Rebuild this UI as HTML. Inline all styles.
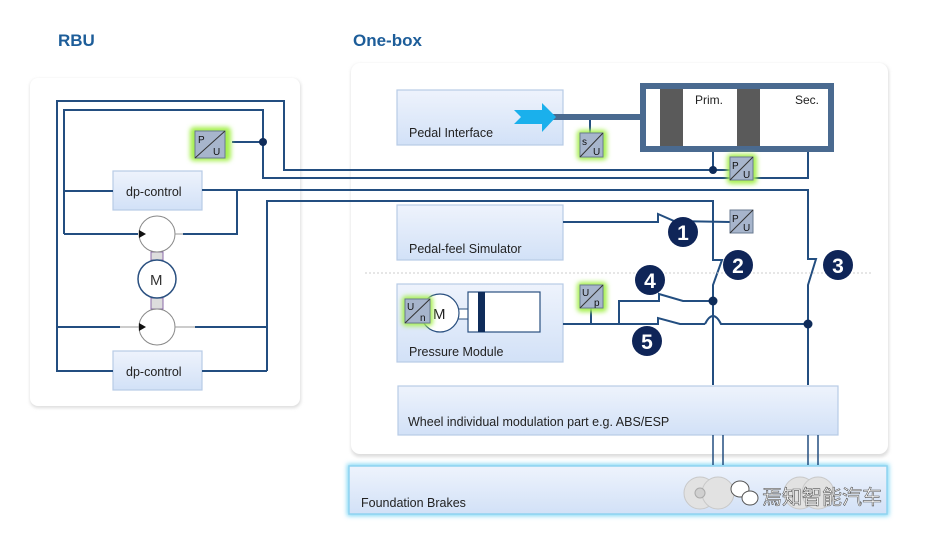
<!DOCTYPE html>
<html><head><meta charset="utf-8"><style>
html,body{margin:0;padding:0;background:#fff;width:929px;height:539px;overflow:hidden}
svg{display:block;font-family:"Liberation Sans","Noto Sans CJK SC",sans-serif}
</style></head><body>
<svg width="929" height="539" viewBox="0 0 929 539" xmlns="http://www.w3.org/2000/svg">
<defs>
<linearGradient id="bx" x1="0" y1="0" x2="0" y2="1"><stop offset="0" stop-color="#eef3fc"/><stop offset="1" stop-color="#d2e1f7"/></linearGradient>
<filter id="gl" x="-50%" y="-50%" width="200%" height="200%"><feGaussianBlur stdDeviation="2.5"/></filter>
<filter id="sh" x="-5%" y="-5%" width="110%" height="110%"><feGaussianBlur stdDeviation="1.5"/></filter>
</defs>
<text x="58" y="46" font-size="17" font-weight="bold" fill="#1d5d99">RBU</text>
<text x="353" y="46" font-size="17" font-weight="bold" fill="#1d5d99">One-box</text>
<rect x="30" y="79" width="271" height="329" rx="8" fill="#ddd" filter="url(#sh)"/>
<rect x="30" y="78" width="270" height="328" rx="8" fill="#fff"/>
<rect x="351" y="64" width="538" height="393" rx="9" fill="#ddd" filter="url(#sh)"/>
<rect x="351" y="63" width="537" height="391" rx="9" fill="#fff"/>
<rect x="347" y="464" width="542" height="52" fill="#7fd7f5" filter="url(#gl)"/>
<rect x="349" y="466" width="538" height="48" fill="url(#bx)" stroke="#8fd3f0" stroke-width="1.5"/>
<text x="361" y="507" font-size="12.5" fill="#222">Foundation Brakes</text>
<g fill="#e2e2e2" stroke="#c8c8c8"><circle cx="700" cy="493" r="16"/><circle cx="718" cy="493" r="16"/><circle cx="800" cy="493" r="16"/><circle cx="818" cy="493" r="16"/></g>
<circle cx="700" cy="493" r="5" fill="#d0d0d0" stroke="#aaa"/>
<g fill="#fff" stroke="#555" stroke-width="1"><ellipse cx="740" cy="489" rx="9" ry="8"/><ellipse cx="750" cy="498" rx="8" ry="7"/></g>
<text x="762" y="504" font-size="20" fill="#fff" stroke="#555" stroke-width="0.6">焉知智能汽车</text>
<g fill="url(#bx)" stroke="#b7cbe6" stroke-width="1.2">
<rect x="113" y="171" width="89" height="39"/>
<rect x="113" y="351" width="89" height="39"/>
<rect x="397" y="90" width="166" height="55"/>
<rect x="397" y="205" width="166" height="55"/>
<rect x="397" y="284" width="166" height="78"/>
<rect x="398" y="386" width="440" height="49"/>
</g>
<g font-size="12.5" fill="#222">
<text x="126" y="196">dp-control</text>
<text x="126" y="376">dp-control</text>
<text x="409" y="137">Pedal Interface</text>
<text x="409" y="253">Pedal-feel Simulator</text>
<text x="409" y="356">Pressure Module</text>
<text x="408" y="426">Wheel individual modulation part e.g. ABS/ESP</text>
</g>
<g fill="none" stroke="#234e80" stroke-width="2">
<polyline points="57,372 57,101 284,101 284,170 753,170"/>
<polyline points="713,170 713,150"/>
<polyline points="64,234 64,110 263,110 263,178 808,178 808,150"/>
<polyline points="232,142 263,142"/>
<polyline points="64,191 113,191"/>
<polyline points="202,190 808,190 808,259 816,259 808,285 808,385"/>
<polyline points="183,234 237,234 237,190"/>
<polyline points="267,371 267,201 713,201 713,260 722,260 713,285 713,385"/>
<polyline points="195,327 267,327"/>
<polyline points="57,327 120,327"/>
<polyline points="57,371 113,371"/>
<polyline points="64,234 138,234"/>
<polyline points="202,371 267,371"/>
<polyline points="563,222 658,222 658,214 674,221 730,222"/>
<polyline points="563,324 658,324 658,318 680,324 705,324"/>
<path d="M705 324 Q713 308 721 324 L808 324"/>
<polyline points="619,324 619,301 659,301 659,294 683,301 713,301"/>
<polyline points="591,308 591,324"/>
<polyline points="590,133 590,117"/>
</g>
<g stroke="#234e80" stroke-width="1.5"><line x1="713" y1="435" x2="713" y2="465"/><line x1="723" y1="435" x2="723" y2="465"/><line x1="808" y1="435" x2="808" y2="465"/><line x1="818" y1="435" x2="818" y2="465"/></g>
<g fill="#0f2c5a"><circle cx="263" cy="142" r="4"/><circle cx="713" cy="170" r="4"/><circle cx="713" cy="301" r="4.5"/><circle cx="808" cy="324" r="4.5"/></g>
<line x1="365" y1="273" x2="872" y2="273" stroke="#ccc" stroke-dasharray="2,2"/>
<rect x="151" y="252" width="12" height="8" fill="#ddd" stroke="#8a6aa8"/>
<rect x="151" y="298" width="12" height="11" fill="#ddd" stroke="#8a6aa8"/>
<g fill="#fff" stroke="#888"><circle cx="157" cy="234" r="18"/><circle cx="157" cy="327" r="18"/></g>
<circle cx="157" cy="279" r="19" fill="#fff" stroke="#2a5080" stroke-width="1.5"/>
<text x="150" y="285" font-size="15" fill="#333">M</text>
<g stroke="#999"><line x1="120" y1="327" x2="140" y2="327"/><line x1="175" y1="327" x2="195" y2="327"/><line x1="175" y1="234" x2="183" y2="234"/></g>
<polygon points="139,230 146,234 139,238" fill="#111"/><polygon points="139,323 146,327 139,331" fill="#111"/>
<rect x="550" y="114" width="92" height="6" fill="#4a6a90"/>
<polygon points="514,110 542,110 542,103 556,117 542,132 542,124 514,124 521,117" fill="#1ab0ec"/>
<rect x="643" y="86" width="188" height="63" fill="#fff" stroke="#4a6a90" stroke-width="6"/>
<rect x="660" y="89" width="23" height="57" fill="#5a5a5a"/><rect x="737" y="89" width="23" height="57" fill="#5a5a5a"/>
<text x="695" y="104" font-size="12" fill="#222">Prim.</text><text x="795" y="104" font-size="12" fill="#222">Sec.</text>
<rect x="455" y="309" width="14" height="10" fill="#fff" stroke="#2a5080"/>
<circle cx="440" cy="313" r="19" fill="#fff" stroke="#2a5080" stroke-width="1.2"/>
<text x="433" y="319" font-size="15" fill="#222">M</text>
<rect x="468" y="292" width="72" height="40" fill="#fff" stroke="#2a5080" stroke-width="1.2"/>
<rect x="478" y="292" width="7" height="40" fill="#0f2c5a"/>
<g>
<rect x="190" y="127" width="41" height="34" rx="4" fill="#a6f050" filter="url(#gl)"/>
<rect x="577" y="130" width="30" height="30" rx="4" fill="#a6f050" filter="url(#gl)"/>
<rect x="727" y="154" width="30" height="30" rx="4" fill="#a6f050" filter="url(#gl)"/>
<rect x="577" y="282" width="30" height="30" rx="4" fill="#a6f050" filter="url(#gl)"/>
<rect x="402" y="296" width="31" height="30" rx="4" fill="#a6f050" filter="url(#gl)"/>
</g>
<g fill="#a7b5cc" stroke="#6a7a90">
<rect x="195" y="131" width="30" height="27"/>
<rect x="580" y="133" width="23" height="24"/>
<rect x="730" y="157" width="23" height="23"/>
<rect x="730" y="210" width="23" height="23"/>
<rect x="580" y="285" width="23" height="23"/>
<rect x="405" y="299" width="25" height="24"/>
</g>
<g stroke="#333" stroke-width="1">
<line x1="195" y1="158" x2="225" y2="131"/><line x1="580" y1="157" x2="603" y2="133"/><line x1="730" y1="180" x2="753" y2="157"/><line x1="730" y1="233" x2="753" y2="210"/><line x1="580" y1="308" x2="603" y2="285"/><line x1="405" y1="323" x2="430" y2="299"/>
</g>
<g font-size="10" fill="#111">
<text x="198" y="143">P</text><text x="213" y="155">U</text>
<text x="582" y="145">s</text><text x="593" y="155">U</text>
<text x="732" y="169">P</text><text x="743" y="178">U</text>
<text x="732" y="222">P</text><text x="743" y="231">U</text>
<text x="582" y="296">U</text><text x="594" y="306">p</text>
<text x="407" y="310">U</text><text x="420" y="321">n</text>
</g>
<g fill="#0f2558"><circle cx="683" cy="232" r="15"/><circle cx="738" cy="265" r="15"/><circle cx="838" cy="265" r="15"/><circle cx="650" cy="280" r="15"/><circle cx="647" cy="341" r="15"/></g>
<g font-size="21" font-weight="bold" fill="#fff" text-anchor="middle">
<text x="683" y="240">1</text><text x="738" y="273">2</text><text x="838" y="273">3</text><text x="650" y="288">4</text><text x="647" y="349">5</text>
</g>
</svg>
</body></html>
